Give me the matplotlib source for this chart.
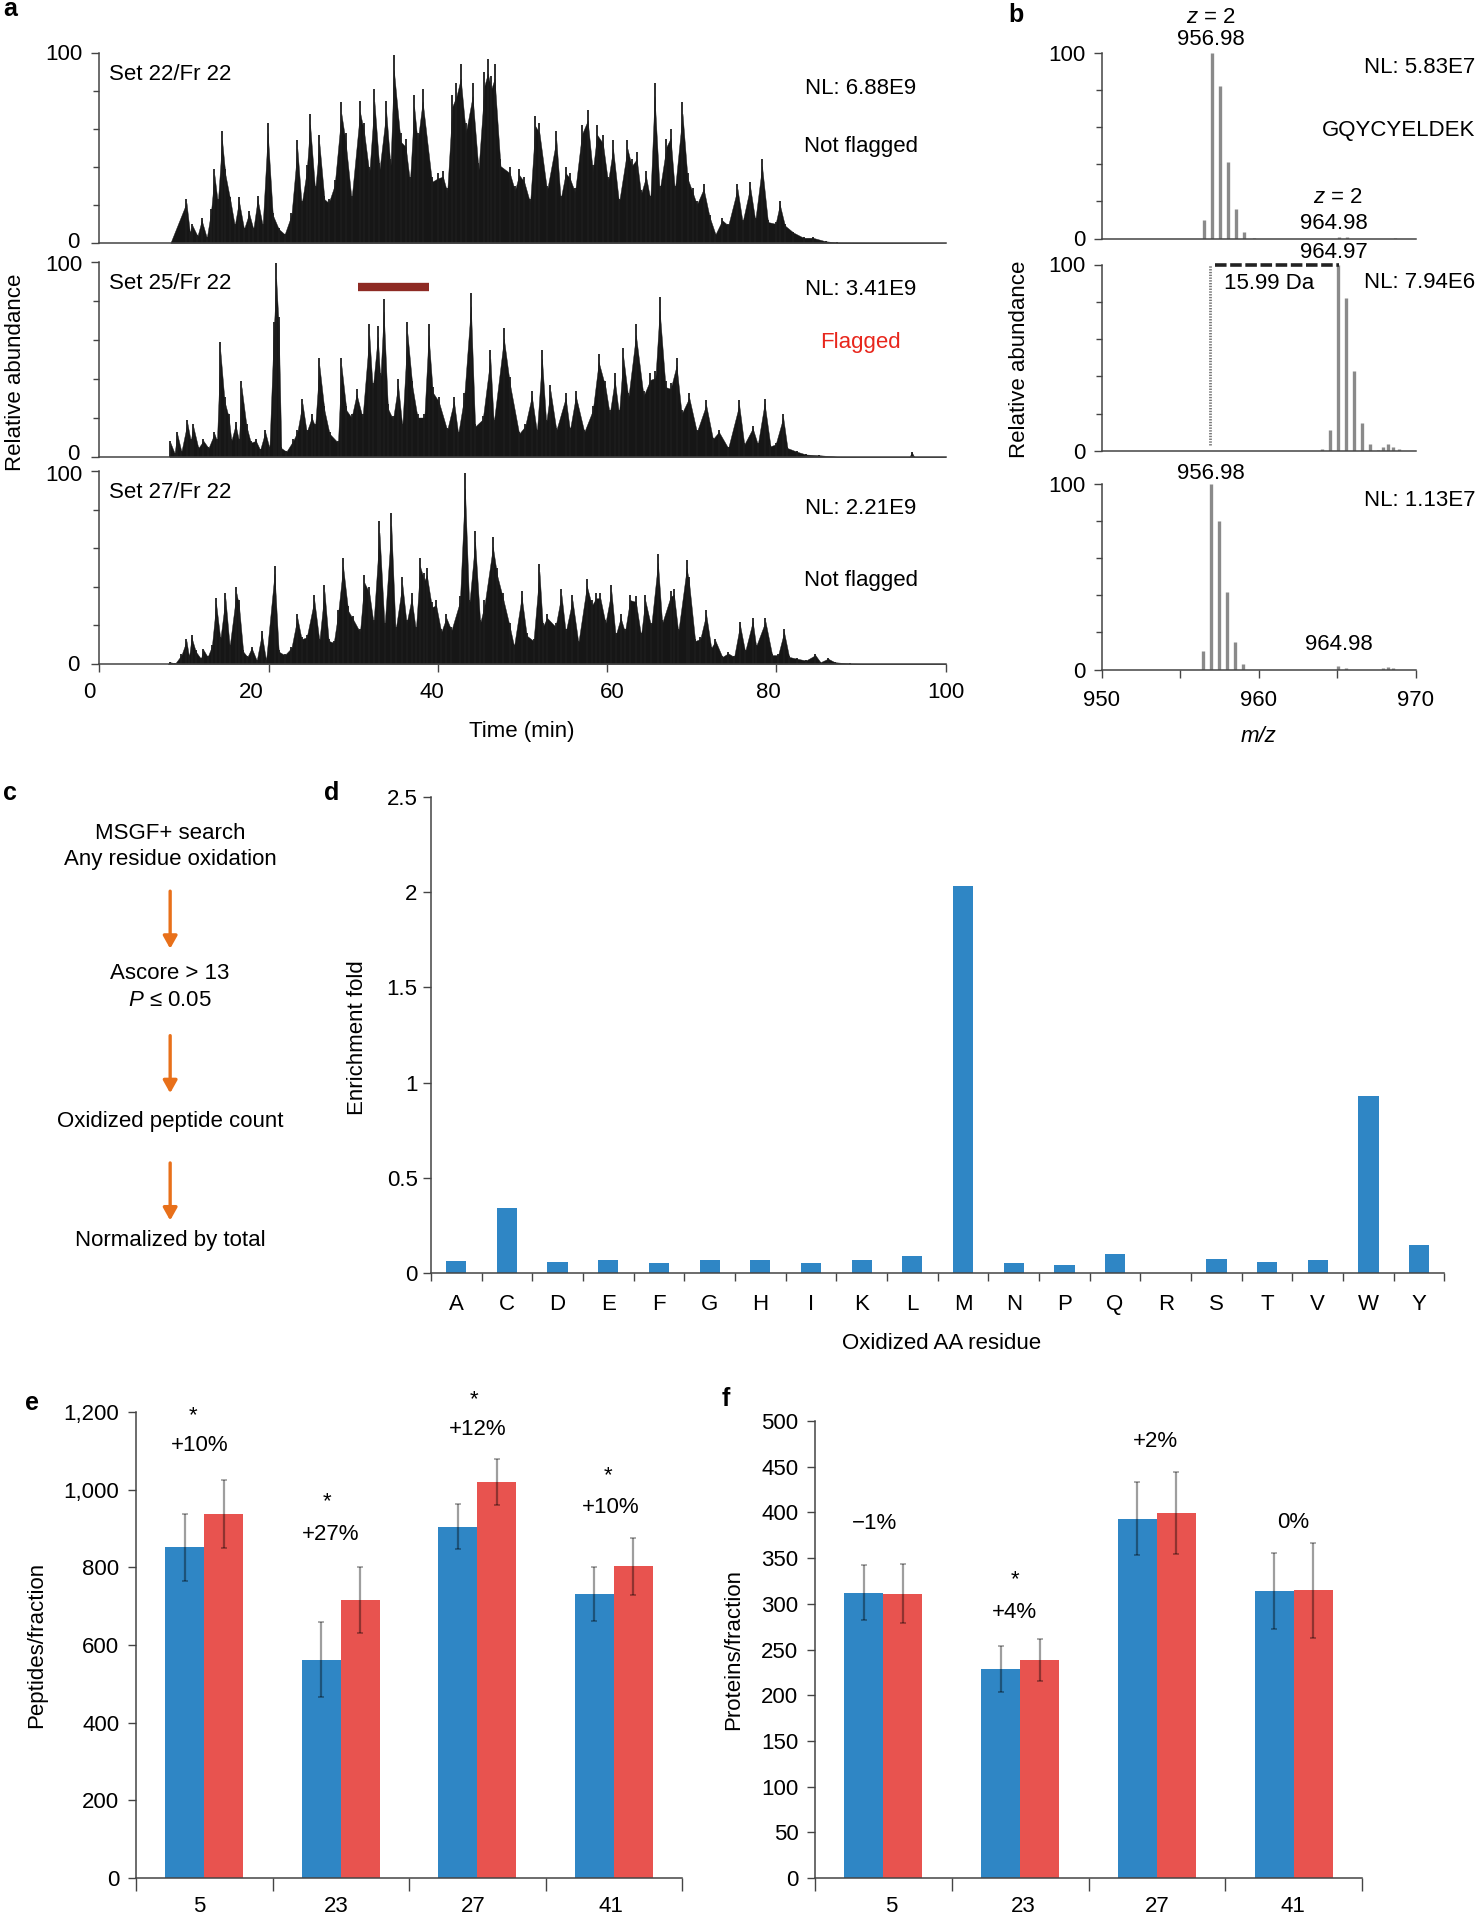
import matplotlib
matplotlib.use("Agg")
import matplotlib.pyplot as plt
import numpy as np

plt.rcParams["font.family"] = ["Liberation Sans", "DejaVu Sans"]
plt.rcParams["mathtext.fontset"] = "custom"
plt.rcParams["mathtext.it"] = "Liberation Sans:italic"

W, H = 1480, 1920
S = 1480 / 1209  # layout numbers
FS = 16
AXC = "#444444"

# panel a: peak/valley readings per trace (min, % abundance)
t22 = [8.4, 10.3, 10.7, 11, 11.6, 12.1, 12.7, 13.2, 13.6, 14, 14.5, 14.9, 15.5, 16, 16.5, 17.1, 17.7, 18.2, 18.7, 19.3,
       19.9, 20.5, 21.2, 21.9, 22.7, 23.4, 23.9, 24.5, 24.9, 25.5, 26, 26.6, 27.1, 27.8, 28.6, 29.1, 29.8, 30.8, 31.3,
       31.9, 32.5, 33.1, 33.9, 34.4, 34.8, 35.6, 36.2, 36.7, 37.2, 37.6, 38.2, 39.3, 40, 40.6, 41.1, 41.7, 42.2, 42.7,
       43.3, 44.1, 44.8, 45.5, 45.9, 46.3, 46.7, 47.4, 48.5, 49.1, 49.6, 50.2, 50.9, 51.5, 52, 52.9, 54, 54.5, 55.1,
       55.6, 56.2, 57, 57.7, 58.3, 58.8, 59.5, 60.1, 60.7, 61.4, 62.4, 62.9, 63.5, 64, 64.6, 65.1, 65.6, 66.2, 67, 67.5,
       68, 68.9, 69.5, 70.1, 70.6, 71.4, 72.1, 72.8, 73.6, 74.3, 75.4, 76, 76.9, 77.5, 78.3, 79, 79.9, 80.4, 81, 82,
       83.2, 84.3, 85.8, 87.2, 100]
a22 = [0, 23, 6, 10, 4, 13, 3, 18, 39, 23, 59, 39, 24, 10, 24, 8, 17, 8, 25, 10,
       63, 16, 8, 5, 16, 54, 22, 41, 68, 30, 57, 25, 23, 33, 74, 58, 25, 75, 63,
       40, 81, 42, 75, 44, 99, 58, 55, 35, 78, 58, 81, 35, 37, 38, 29, 78, 84, 94,
       63, 84, 42, 90, 97, 88, 94, 44, 40, 30, 39, 35, 23, 67, 63, 30, 59, 25, 40,
       37, 29, 62, 70, 41, 62, 57, 35, 54, 23, 54, 44, 48, 28, 38, 25, 84, 30, 55, 60,
       30, 74, 37, 29, 22, 31, 15, 5, 13, 10, 31, 12, 32, 13, 44, 12, 11, 22, 10, 6,
       3, 3, 1, 0.3, 0]

t25 = [8.3, 8.4, 8.9, 9.2, 9.7, 10.4, 10.8, 11.1, 11.7, 12.3, 12.9, 13.6, 13.9, 14.3, 14.8, 15.3, 15.6, 16.1, 16.5, 16.8,
       17.4, 17.9, 18.5, 19, 19.6, 20.1, 20.6, 20.9, 21.2, 21.5, 22.1, 22.9, 23.4, 24, 24.5, 25.1, 25.5, 26, 26.6, 27.2,
       28.2, 28.6, 29.2, 29.8, 30.4, 31.1, 31.9, 32.3, 32.9, 33.2, 33.6, 34.1, 34.7, 35.3, 35.8, 36.4, 37, 37.6, 38.4,
       38.9, 39.4, 40.1, 41.1, 41.9, 42.4, 43.1, 43.9, 44.4, 45.3, 46.2, 46.6, 47.8, 48.5, 49.6, 50.3, 51.1, 51.7, 52.3,
       52.8, 53.3, 54, 55.1, 55.6, 56.3, 57.3, 58.3, 59, 59.8, 60.3, 60.9, 61.4, 61.9, 62.5, 63.4, 64.3, 65.1, 65.7, 66.2,
       66.9, 67.5, 68.2, 68.8, 69.7, 70.6, 71.7, 72.5, 73.2, 74.3, 75.6, 76.2, 77.2, 77.8, 78.6, 79.3, 79.9, 80.8, 81.3,
       82.4, 83.5, 85, 87.2, 95.7, 96, 96.3, 100]
a25 = [0, 8, 2, 13, 3, 19, 9, 17, 5, 9, 5, 13, 9, 59, 31, 22, 9, 18, 9, 39,
       17, 8, 9, 4, 14, 5, 69, 99.5, 72, 5, 3, 9, 14, 30, 14, 22, 17, 51, 26, 13,
       8, 51, 26, 22, 35, 22, 68, 38, 67, 43, 81, 27, 21, 40, 17, 69, 39, 22, 22,
       68, 36, 31, 15, 31, 13, 33, 84, 17, 21, 55, 19, 66, 41, 13, 17, 34, 14, 55,
       19, 37, 15, 33, 15, 34, 14, 26, 53, 39, 24, 43, 24, 56, 33, 68, 34, 43, 44, 82,
       39, 38, 51, 24, 33, 14, 29, 10, 14, 5, 29, 7, 16, 7, 30, 6, 7, 22, 5,
       3, 1.4, 1, 0.2, 0, 2.5, 0, 0]

t27 = [8.1, 8.3, 9, 9.7, 10.3, 10.6, 10.9, 11.4, 12, 12.3, 12.8, 13.3, 13.8, 14.3, 14.9, 15.4, 16.2, 16.5, 17, 17.5,
       18, 18.6, 19.2, 19.7, 20.7, 21.2, 21.9, 22.7, 23.4, 23.9, 24.5, 25.4, 26, 26.6, 27.1, 27.7, 28.2, 28.8, 29.4, 30,
       30.8, 31.3, 31.9, 32.4, 33.1, 33.7, 34.5, 35, 35.8, 36.3, 36.9, 37.4, 37.9, 38.4, 38.7, 39.3, 39.8, 40.4, 41, 41.6,
       42.6, 43.2, 43.7, 44.4, 45, 45.5, 46.5, 47, 47.7, 48.5, 49, 49.9, 50.5, 51.3, 52, 52.4, 52.9, 53.9, 54.6, 55.1,
       55.9, 56.6, 57.6, 58.2, 58.7, 59.2, 59.8, 60.5, 61, 61.6, 62.1, 62.7, 63.4, 64, 64.5, 65.2, 66, 66.5, 67.5, 67.9,
       68.4, 69.4, 69.7, 70.4, 71, 71.7, 72.3, 72.8, 73.6, 74.3, 75, 75.7, 76.3, 77.2, 77.6, 78.7, 79.5, 80.2, 80.9, 81.5,
       82.4, 83.5, 84.6, 85.2, 86.1, 86.9, 88.7, 91.7, 100]
a27 = [0, 1, 0.5, 5, 13, 4, 15, 7, 3, 8, 4, 10, 34, 14, 37, 10, 40, 33, 7, 4,
       9, 2, 17, 2, 51, 7, 5, 9, 26, 14, 15, 36, 13, 41, 13, 12, 28, 55, 30, 25,
       18, 46, 40, 23, 74, 21, 78, 19, 45, 23, 37, 19, 55, 47, 50, 32, 33, 18, 26, 19,
       35, 99, 33, 69, 23, 33, 66, 50, 37, 21, 10, 38, 16, 13, 52, 21, 26, 21, 39, 18,
       36, 12, 44, 33, 37, 37, 23, 41, 16, 26, 18, 36, 35, 16, 36, 21, 57, 23, 38, 39,
       18, 54, 45, 13, 14, 28, 9, 13, 4, 6, 4, 22, 7, 24, 10, 24, 5, 5, 18, 4,
       3, 2, 5, 1, 3, 1, 0.3, 0, 0]

# panel b: centroid sticks (m/z, % abundance)
mz_top = [956.54, 957.05, 957.56, 958.07, 958.58, 959.09, 959.7, 965.14, 965.6, 968.7]
ab_top = [10, 100, 82, 41, 16, 3.5, 0.5, 1, 0.7, 0.5]
mz_mid = [964.0, 964.55, 965.05, 965.56, 966.05, 966.56, 967.07, 967.6, 967.94, 968.26, 968.58, 968.94]
ab_mid = [1, 11, 100, 82, 43, 15, 3.5, 0.7, 2, 3.5, 2.2, 1]
mz_bot = [956.47, 956.98, 957.49, 958.0, 958.51, 959.02, 965.05, 965.56, 967.94, 968.26, 968.58]
ab_bot = [10, 100, 80, 42, 15, 3, 2, 1, 1, 1.2, 1]

# panel d
residues = ["A", "C", "D", "E", "F", "G", "H", "I", "K", "L", "M", "N", "P", "Q", "R", "S", "T", "V", "W", "Y"]
enrichment = [0.065, 0.34, 0.06, 0.07, 0.055, 0.07, 0.07, 0.055, 0.07, 0.09,
              2.03, 0.055, 0.04, 0.10, 0.003, 0.075, 0.06, 0.07, 0.93, 0.15]

# panels e and f
sets = ["5", "23", "27", "41"]
pep_blue = [852, 562, 905, 732]
pep_red = [938, 716, 1020, 803]
pep_blue_err = [86, 97, 57, 70]
pep_red_err = [88, 86, 59, 73]
prot_blue = [312, 229, 393, 314]
prot_red = [311, 239, 399, 315]
prot_blue_err = [30, 25, 40, 42]
prot_red_err = [32, 23, 45, 52]

fig = plt.figure(figsize=(W / 100, H / 100), dpi=100, facecolor="white")


def ax_px(left, top, right, bottom):
    """Axes from pixel edges, y counted from the top of the image."""
    ax = fig.add_axes([left / W, 1 - bottom / H, (right - left) / W, (bottom - top) / H])
    ax.patch.set_alpha(0)
    for side in ("top", "right"):
        ax.spines[side].set_visible(False)
    for side in ("left", "bottom"):
        ax.spines[side].set_color(AXC)
        ax.spines[side].set_linewidth(1.1)
    ax.tick_params(colors=AXC, labelcolor="black", labelsize=FS, width=1.0, length=6)
    ax.tick_params(which="minor", colors=AXC, width=1.0, length=4)
    return ax


def label(x, y, s, **kw):
    """Text placed with shrunk-picture coordinates."""
    kw.setdefault("ha", "center")
    kw.setdefault("va", "center")
    kw.setdefault("fontsize", FS)
    fig.text(x * S / W, 1 - (y + 1.5) * S / H, s, **kw)


# a: chromatograms, body plus a needle for every reading so the tips stay sharp
rows_a = [(53, 243, t22, a22), (262, 457, t25, a25), (471, 664, t27, a27)]
for i, (top, bottom, t, a) in enumerate(rows_a):
    ax = ax_px(99.3, top, 945.7, bottom)
    ax.fill_between(t, 0, np.array(a) * 0.92, color="#161616", linewidth=0.3)
    ax.vlines(t, 0, a, color="#1c1c1c", linewidth=1.3)
    ax.set_xlim(0, 100)
    ax.set_ylim(0, 100)
    ax.set_yticks([0, 100])
    ax.set_yticklabels(["", ""])
    ax.set_yticks([20, 40, 60, 80], minor=True)
    if i == 2:
        ax.set_xticks(range(0, 101, 20))
        ax.set_xticklabels([""] * 6)
    else:
        ax.set_xticks([])
    if i == 1:
        ax.plot([30.6, 38.9], [87, 87], color="#8e2a24", linewidth=6, solid_capstyle="butt")

for y in (43, 215, 387):
    label(52, y, "100")
for y in (197, 370, 542):
    label(60, y, "0")
for x, s in zip((73, 205, 353, 500, 628, 773), ("0", "20", "40", "60", "80", "100")):
    label(x, 564, s)

label(89, 59, "Set 22/Fr 22", ha="left")
label(89, 230, "Set 25/Fr 22", ha="left")
label(89, 401, "Set 27/Fr 22", ha="left")
label(703, 71, "NL: 6.88E9")
label(703, 118, "Not flagged")
label(703, 235, "NL: 3.41E9")
label(703, 278, "Flagged", color="#e8261c")
label(703, 414, "NL: 2.21E9")
label(703, 473, "Not flagged")
label(13, 303, "Relative abundance", rotation=90)
label(426, 596, "Time (min)")

# b: isotope envelopes
rows_b = [(53, 238.5, mz_top, ab_top), (264.5, 451, mz_mid, ab_mid), (484, 669.5, mz_bot, ab_bot)]
for i, (top, bottom, mz, ab) in enumerate(rows_b):
    ax = ax_px(1101.7, top, 1415.7, bottom)
    ax.vlines(mz, 0, ab, color="#8a8a8a", linewidth=2.4)
    ax.set_xlim(950, 970)
    ax.set_ylim(0, 100)
    ax.set_yticks([0, 100])
    ax.set_yticks([20, 40, 60, 80], minor=True)
    ax.tick_params(axis="y", which="major", pad=6)
    if i == 2:
        ax.set_xticks([950, 960, 970])
        ax.set_xticks([955, 965], minor=True)
        ax.tick_params(axis="x", pad=9)
        ax.tick_params(axis="x", which="minor", length=6)
    else:
        ax.set_xticks([])
    if i == 1:
        ax.plot([956.92, 956.92], [3, 100], color="#777777", linewidth=2, linestyle=(0, (0.5, 0.5)))
        ax.plot([957.2, 965.1], [100, 100], color="#222222", linewidth=2.6, linestyle=(0, (3.2, 1)),
                clip_on=False)

label(989, 13, "$\\it{z}$ = 2")
label(989, 31, "956.98")
label(1205, 54, "NL: 5.83E7", ha="right")
label(1205, 105, "GQYCYELDEK", ha="right")
label(1093, 160, "$\\it{z}$ = 2")
label(1090, 181, "964.98")
label(1090, 205, "964.97")
label(1037, 230, "15.99 Da")
label(1205, 229, "NL: 7.94E6", ha="right")
label(989, 385, "956.98")
label(1205, 407, "NL: 1.13E7", ha="right")
label(1094, 525, "964.98")
label(833, 292, "Relative abundance", rotation=90)
label(1028, 600, "m/z", style="italic")

# c: flow chart, drawn on a figure wide overlay in shrunk-picture coordinates
flow = ax_px(0, 0, W, H)
flow.set_axis_off()
flow.set_xlim(0, W / S)
flow.set_ylim(H / S, 0)
for y0, y1 in [(728, 775), (846, 893), (950, 997)]:
    flow.annotate("", xy=(139, y1), xytext=(139, y0),
                  arrowprops=dict(arrowstyle="-|>,head_width=0.42,head_length=0.75", color="#e8701a",
                                  linewidth=2.4, shrinkA=0, shrinkB=0))
label(139, 679, "MSGF+ search")
label(139, 701, "Any residue oxidation")
label(139, 794, "Ascore > 13")
label(139, 816, "$\\it{P}$ ≤ 0.05")
label(139, 915, "Oxidized peptide count")
label(139, 1012, "Normalized by total")

# d: enrichment per residue
ax = ax_px(352 * S, 651 * S, 1180 * S, 1040 * S)
xd = np.arange(len(residues))
ax.bar(xd, enrichment, width=0.4, color="#2f86c5")
ax.set_xlim(-0.5, len(residues) - 0.5)
ax.set_ylim(0, 2.5)
ax.set_yticks([0, 0.5, 1, 1.5, 2, 2.5])
ax.set_yticklabels(["0", "0.5", "1", "1.5", "2", "2.5"])
ax.set_xticks(np.arange(len(residues) + 1) - 0.5)
ax.set_xticklabels([""] * (len(residues) + 1))
ax.set_xticks(xd, minor=True)
ax.set_xticklabels(residues, minor=True)
ax.tick_params(axis="x", which="minor", length=0, pad=15, labelsize=FS, labelcolor="black")
label(292, 846, "Enrichment fold", rotation=90)
label(769, 1096, "Oxidized AA residue")


def grouped(ax, blue, red, blue_err, red_err):
    x = np.arange(len(sets))
    w = 0.285
    err_kw = dict(ecolor=(0, 0, 0, 0.38), elinewidth=1.6, capsize=2, capthick=1.2)
    ax.bar(x - w / 2, blue, width=w, color="#2f86c5", yerr=blue_err, error_kw=err_kw)
    ax.bar(x + w / 2, red, width=w, color="#e8534f", yerr=red_err, error_kw=err_kw)
    ax.set_xlim(-0.5, len(sets) - 0.5)
    ax.set_xticks(np.arange(len(sets) + 1) - 0.5)
    ax.set_xticklabels([""] * (len(sets) + 1))
    ax.tick_params(axis="x", which="major", length=9)
    ax.tick_params(axis="y", which="major", pad=6)


# e: peptides
ax = ax_px(136, 1412, 682, 1878)
grouped(ax, pep_blue, pep_red, pep_blue_err, pep_red_err)
ax.set_ylim(0, 1200)
ax.set_yticks(range(0, 1201, 200))
ax.set_yticklabels(["0", "200", "400", "600", "800", "1,000", "1,200"])
label(30, 1342, "Peptides/fraction", rotation=90)
for x, y, s in [(158, 1155, "*"), (163, 1179, "+10%"), (267, 1225, "*"), (270, 1252, "+27%"),
                (387, 1142, "*"), (390, 1166, "+12%"), (497, 1204, "*"), (499, 1230, "+10%")]:
    label(x, y, s)
for x, s in zip((163, 275, 387, 499), sets):
    label(x, 1555.5, s)

# f: proteins
ax = ax_px(815, 1421, 1362, 1878)
grouped(ax, prot_blue, prot_red, prot_blue_err, prot_red_err)
ax.set_ylim(0, 500)
ax.set_yticks(range(0, 501, 50))
label(599, 1346, "Proteins/fraction", rotation=90)
for x, y, s in [(714, 1243, "−1%"), (829, 1289, "*"), (829, 1316, "+4%"), (944, 1176, "+2%"), (1056, 1242, "0%")]:
    label(x, y, s)
for x, s in zip((728, 836, 945, 1056), sets):
    label(x, 1555.5, s)

# panel letters
for x, y, s in [(8, 6, "a"), (830, 11, "b"), (8, 646, "c"), (271, 646, "d"), (26, 1145, "e"), (593, 1141, "f")]:
    label(x, y, s, fontweight="bold", fontsize=18)

fig.savefig("out.png", dpi=100)
